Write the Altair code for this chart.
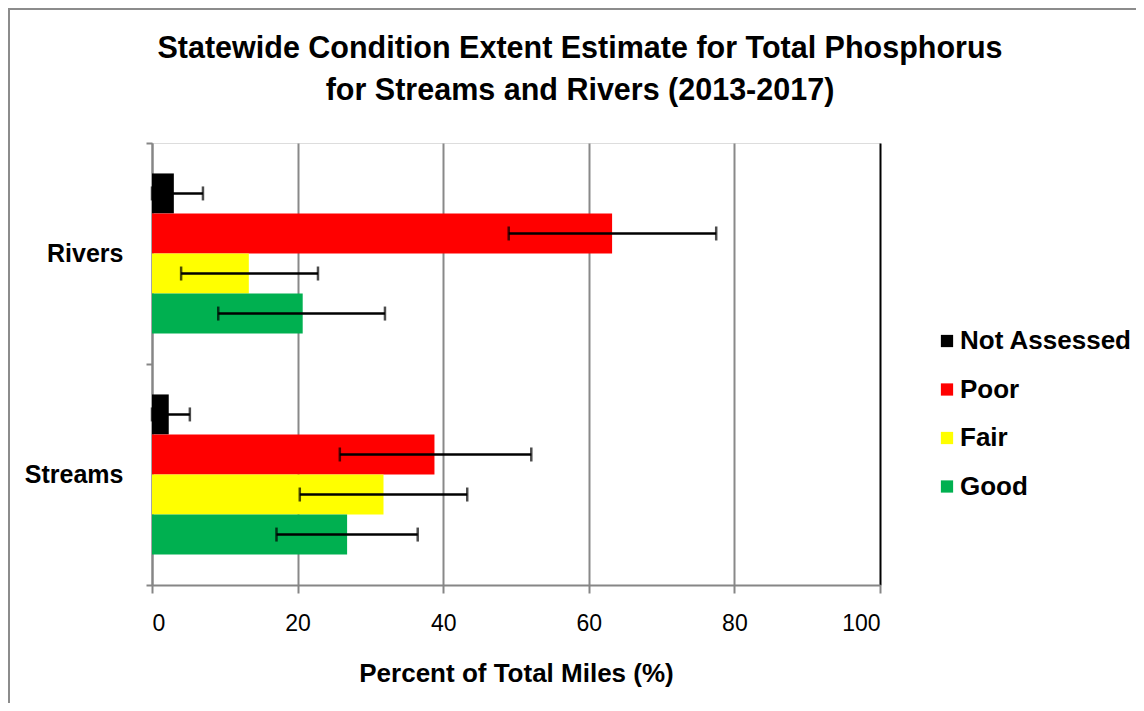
import altair as alt
import pandas as pd

conditions = ["Not Assessed", "Poor", "Fair", "Good"]
colors = ["#000000", "#FF0000", "#FFFF00", "#00B050"]
water_types = ["Rivers", "Streams"]

rivers_pct = [3.0, 63.2, 13.3, 20.7]
rivers_low = [0.0, 49.0, 4.0, 9.1]
rivers_high = [7.0, 77.5, 22.8, 32.0]

streams_pct = [2.3, 38.8, 31.8, 26.8]
streams_low = [0.0, 25.8, 20.3, 17.1]
streams_high = [5.2, 52.1, 43.3, 36.5]

rows = []
for wt, pct, lo, hi in [("Rivers", rivers_pct, rivers_low, rivers_high),
                        ("Streams", streams_pct, streams_low, streams_high)]:
    for c, p, l, h in zip(conditions, pct, lo, hi):
        rows.append({"type": wt, "condition": c, "pct": p, "low": l, "high": h})
df = pd.DataFrame(rows)

FONT = "Liberation Sans"
W, H = 728, 442

y_enc = alt.Y("type:N", sort=water_types,
              scale=alt.Scale(domain=water_types, paddingInner=0, paddingOuter=0),
              axis=alt.Axis(title=None, labelFont=FONT, labelFontSize=25, labelFontWeight="bold",
                            labelColor="black", labelPadding=23, tickBand="extent",
                            tickSize=6, tickWidth=2, tickColor="#868686",
                            domainColor="#868686", domainWidth=2, grid=False))
yoff_enc = alt.YOffset("condition:N", sort=conditions,
                       scale=alt.Scale(domain=conditions, paddingInner=0, paddingOuter=0.76))

x_scale = alt.Scale(domain=[0, 100], nice=False)
x_axis = alt.Axis(title="Percent of Total Miles (%)", values=[0, 20, 40, 60, 80, 100],
                  labelFont=FONT, labelFontSize=23, labelColor="black", labelPadding=19,
                  titleFont=FONT, titleFontSize=26, titleFontWeight="bold", titleColor="black",
                  titlePadding=25, tickSize=8, tickWidth=2, tickColor="#868686",
                  domainColor="#868686", domainWidth=2,
                  grid=True, gridWidth=2,
                  gridColor={"condition": {"test": "datum.value === 100", "value": "black"},
                             "value": "#898989"})

bars = alt.Chart(df).mark_bar(size=40).encode(
    x=alt.X("pct:Q", scale=x_scale, axis=x_axis),
    y=y_enc,
    yOffset=yoff_enc,
    color=alt.Color("condition:N", sort=conditions,
                    scale=alt.Scale(domain=conditions, range=colors),
                    legend=alt.Legend(title=None, orient="none", legendX=782, legendY=185,
                                      symbolType="square", symbolSize=150, symbolStrokeWidth=0,
                                      labelFont=FONT, labelFontSize=26, labelFontWeight="bold",
                                      labelColor="black", labelOffset=0, rowPadding=22.5,
                                      labelLimit=400)),
)

err_line = alt.Chart(df).mark_rule(color="black", strokeWidth=2.5).encode(
    x=alt.X("low:Q", scale=x_scale),
    x2="high:Q",
    y=alt.Y("type:N", sort=water_types),
    yOffset=alt.YOffset("condition:N", sort=conditions),
)
cap_lo = alt.Chart(df).mark_tick(color="black", thickness=2.5, size=14).encode(
    x=alt.X("low:Q", scale=x_scale),
    y=alt.Y("type:N", sort=water_types),
    yOffset=alt.YOffset("condition:N", sort=conditions),
)
cap_hi = alt.Chart(df).mark_tick(color="black", thickness=2.5, size=14).encode(
    x=alt.X("high:Q", scale=x_scale),
    y=alt.Y("type:N", sort=water_types),
    yOffset=alt.YOffset("condition:N", sort=conditions),
)

border_top = alt.Chart(df).mark_rule(color="#8c8c8c", strokeWidth=2).encode(
    x=alt.value(-144), x2=alt.value(1002), y=alt.value(-134))
border_left = alt.Chart(df).mark_rule(color="#8c8c8c", strokeWidth=2).encode(
    x=alt.value(-143), y=alt.value(-135), y2=alt.value(570))

chart = alt.layer(bars, err_line, cap_lo, cap_hi, border_top, border_left).properties(
    width=W, height=H,
    autosize=alt.AutoSizeParams(type="none"),
    padding={"left": 144, "top": 135, "right": 256, "bottom": 118},
    title=alt.TitleParams(
        text=["Statewide Condition Extent Estimate for Total Phosphorus",
              "for Streams and Rivers (2013-2017)"],
        font=FONT, fontSize=30.5, fontWeight="bold", color="black",
        anchor="middle", dx=64, dy=99, offset=0, lineHeight=42),
).configure_view(stroke="black", strokeWidth=2).configure(background="white")

chart.save("out.html", embed_options={"renderer": "svg", "actions": False})
